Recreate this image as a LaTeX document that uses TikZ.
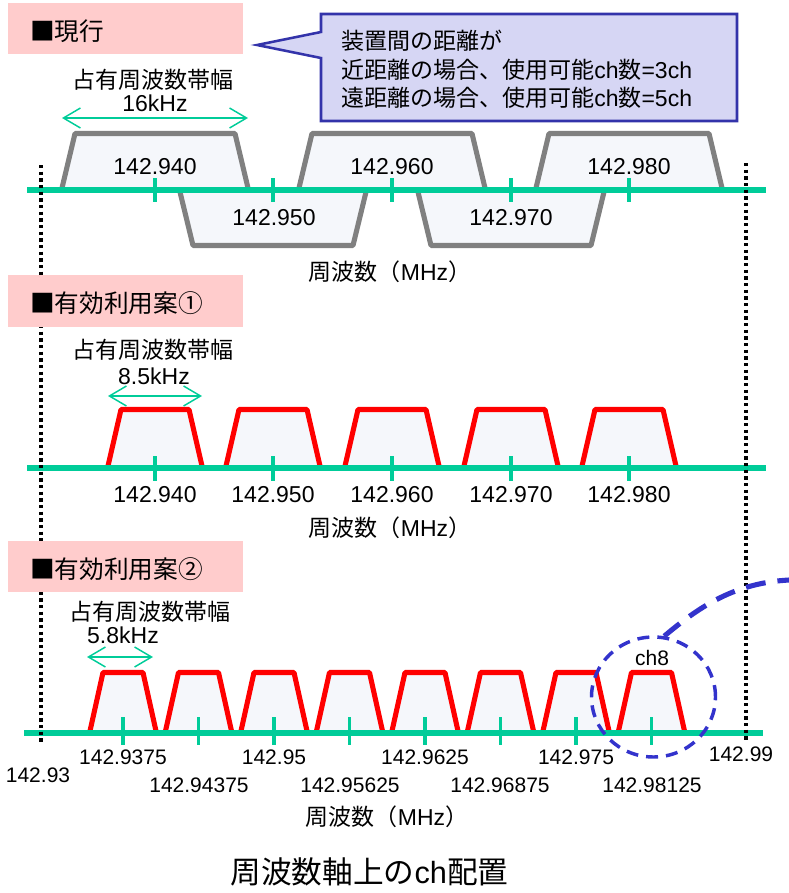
\documentclass[tikz,border=0pt]{standalone}
\usepackage{fontspec}
\setmainfont{Liberation Sans}
\newfontfamily\jp{Noto Sans CJK JP}
\usetikzlibrary{arrows.meta,shapes.geometric}

\definecolor{axisgreen}{RGB}{0,204,153}
\definecolor{pinkbg}{RGB}{255,204,204}
\definecolor{callfill}{RGB}{214,214,244}
\definecolor{callline}{RGB}{51,51,170}
\definecolor{trapfill}{RGB}{245,247,251}
\definecolor{trapgrey}{RGB}{128,128,128}
\definecolor{ringblue}{RGB}{51,51,204}

\newcommand{\trapz}[6]{\filldraw[#6] ({#1-#4},#2) -- ({#1-#5},#3) -- ({#1+#5},#3) -- ({#1+#4},#2);}

\tikzset{
  freqaxis/.style={draw=axisgreen, line width=4.5pt},
  tickmark/.style={draw=axisgreen, line width=2.6pt},
  oldtrap/.style={draw=trapgrey, fill=trapfill, line width=3.8pt, line join=round},
  newtrap/.style={draw=red, fill=trapfill, line width=3.8pt, line join=round},
  dimarrow/.style={draw=axisgreen, line width=1.1pt,
     {Straight Barb[length=12.75pt,width=15pt]}-{Straight Barb[length=12.75pt,width=15pt]}},
  boundary/.style={draw=black, line width=2.6pt, dash pattern=on 2.6pt off 2.4pt},
  titlebox/.style={fill=pinkbg},
  titletext/.style={inner sep=0, anchor=west, font=\jp\fontsize{18.5}{22}\selectfont},
  lbl/.style={inner sep=0, font=\fontsize{17.25}{20}\selectfont},
  smalllbl/.style={inner sep=0, font=\fontsize{15.75}{18}\selectfont},
  jplbl/.style={inner sep=0, font=\jp\fontsize{17.25}{20}\selectfont},
  calltext/.style={inner sep=0, anchor=west, font=\fontsize{17.25}{20}\selectfont},
  ringstyle/.style={ellipse, draw=ringblue, line width=2.6pt, dash pattern=on 9pt off 6pt,
     minimum width=93pt, minimum height=90pt, inner sep=0},
}

\begin{document}
\begin{tikzpicture}[x=0.75pt,y=-0.75pt]
\useasboundingbox (0,0) rectangle (789,893);

% ---------------- top: current ----------------
\trapz{155}{188}{133.5}{93}{80}{oldtrap}
\trapz{392}{188}{133.5}{93}{80}{oldtrap}
\trapz{629}{188}{133.5}{93}{80}{oldtrap}
\trapz{273}{192}{245.5}{93}{80}{oldtrap}
\trapz{511}{192}{245.5}{93}{80}{oldtrap}

\coordinate (ax0l) at (27,190);
\coordinate (ax0r) at (766,190);
\draw[freqaxis] (ax0l) -- (ax0r);
\foreach \c in {155,273,392,511,629}{
  \draw[tickmark] (\c,178) -- (\c,202);
}

% ---------------- case 1 ----------------
\foreach \c in {155,273,392,511,629}{
  \trapz{\c}{466}{409.5}{47}{34}{newtrap}
}
\coordinate (ax1l) at (27,468);
\coordinate (ax1r) at (766,468);
\draw[freqaxis] (ax1l) -- (ax1r);
\foreach \c in {155,273,392,511,629}{
  \draw[tickmark] (\c,456) -- (\c,481);
}

% ---------------- case 2 ----------------
\foreach \i in {0,...,7}{
  \pgfmathsetmacro{\c}{123+75.5*\i}
  \trapz{\c}{731}{672.5}{33}{20}{newtrap}
}
\coordinate (ax2l) at (24,733);
\coordinate (ax2r) at (763,733);
\draw[freqaxis] (ax2l) -- (ax2r);
\foreach \i in {0,...,7}{
  \pgfmathsetmacro{\c}{123+75.5*\i}
  \draw[tickmark] (\c,717) -- (\c,745);
}

% ---------------- boundaries ----------------
\coordinate (bl1) at (41,165);
\coordinate (bl2) at (41,742);
\coordinate (br1) at (746,163);
\coordinate (br2) at (746,742);
\draw[boundary] (bl1) -- (bl2);
\draw[boundary] (br1) -- (br2);

% ---------------- title boxes ----------------
\fill[titlebox] (8,3) rectangle (243,54);
\fill[titlebox] (8,275) rectangle (243,327);
\fill[titlebox] (8,541) rectangle (243,592);
\node[titletext] (t0) at (30,31) {■現行};
\node[titletext] (t1) at (30,303) {■有効利用案①};
\node[titletext] (t2) at (30,569) {■有効利用案②};

% ---------------- callout ----------------
\filldraw[fill=callfill, draw=callline, line width=1.9pt, line join=miter]
  (321,14) -- (737,14) -- (737,121) -- (321,121) -- (321,58) -- (257,45) -- (321,32) -- cycle;
\node[calltext] (c1) at (341,41) {\jp 装置間の距離が};
\node[calltext] (c2) at (341,70) {{\jp 近距離の場合、使用可能}ch{\jp 数}=3ch};
\node[calltext] (c3) at (341,98) {{\jp 遠距離の場合、使用可能}ch{\jp 数}=5ch};

% ---------------- bandwidth annotations ----------------
\node[jplbl] (bw0) at (153,80) {占有周波数帯幅};
\node[lbl] (bw0v) at (155,103) {16kHz};
\coordinate (d0l) at (62,118);
\coordinate (d0r) at (248,118);
\draw[dimarrow] (d0l) -- (d0r);

\node[jplbl] (bw1) at (153,350) {占有周波数帯幅};
\node[lbl] (bw1v) at (154,376) {8.5kHz};
\coordinate (d1l) at (108,396);
\coordinate (d1r) at (202,396);
\draw[dimarrow] (d1l) -- (d1r);

\node[jplbl] (bw2) at (150,612) {占有周波数帯幅};
\node[lbl] (bw2v) at (123,635) {5.8kHz};
\coordinate (d2l) at (87,657);
\coordinate (d2r) at (153,657);
\draw[dimarrow] (d2l) -- (d2r);

% ---------------- frequency labels ----------------
\node[lbl] (f0a) at (155,167) {142.940};
\node[lbl] (f0b) at (274,218) {142.950};
\node[lbl] (f0c) at (392,167) {142.960};
\node[lbl] (f0d) at (511,218) {142.970};
\node[lbl] (f0e) at (629,167) {142.980};
\node[jplbl] (u0) at (390,272) {周波数（\rmfamily MHz\jp ）};

\node[lbl] (f1a) at (155,495) {142.940};
\node[lbl] (f1b) at (273,495) {142.950};
\node[lbl] (f1c) at (392,495) {142.960};
\node[lbl] (f1d) at (511,495) {142.970};
\node[lbl] (f1e) at (629,495) {142.980};
\node[jplbl] (u1) at (390,528) {周波数（\rmfamily MHz\jp ）};

\node[smalllbl] (f2a) at (123,757) {142.9375};
\node[smalllbl] (f2b) at (199,785) {142.94375};
\node[smalllbl] (f2c) at (274,757) {142.95};
\node[smalllbl] (f2d) at (350,785) {142.95625};
\node[smalllbl] (f2e) at (425,757) {142.9625};
\node[smalllbl] (f2f) at (500,785) {142.96875};
\node[smalllbl] (f2g) at (576,757) {142.975};
\node[smalllbl] (f2h) at (652,785) {142.98125};
\node[smalllbl] (f2lo) at (38,775) {142.93};
\node[smalllbl] (f2hi) at (741,754) {142.99};
\node[jplbl] (u2) at (387,817) {周波数（\rmfamily MHz\jp ）};

\node[smalllbl] (ch8) at (652,658) {ch8};

% ---------------- highlight ----------------
\node[ringstyle] (ring) at (653.5,697) {};
\coordinate (offpage) at (789,580);
\draw[draw=ringblue, line width=3.8pt, dash pattern=on 15pt off 9pt]
  (ring.80) .. controls (700,606) and (735,583) .. (offpage);

% ---------------- caption ----------------
\node[inner sep=0, font=\fontsize{23}{26}\selectfont] (cap) at (369.5,872)
  {{\jp 周波数軸上の}ch{\jp 配置}};
\end{tikzpicture}
\end{document}
